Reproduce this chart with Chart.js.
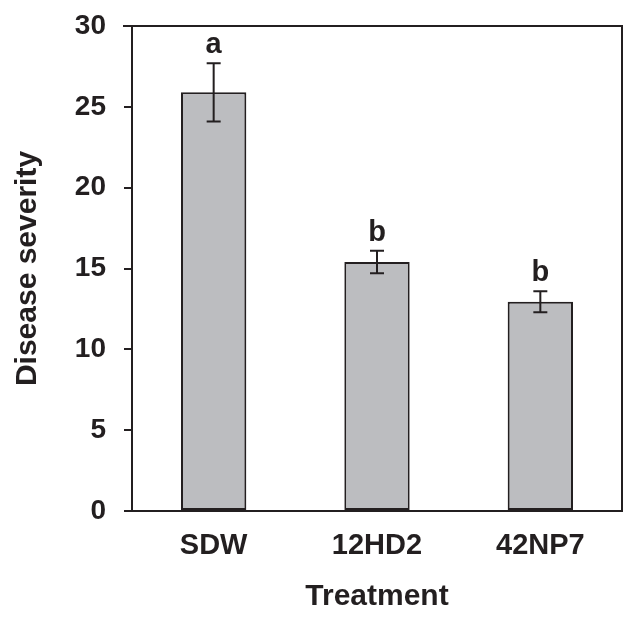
<!DOCTYPE html>
<html>
<head>
<meta charset="utf-8">
<script src="https://cdn.jsdelivr.net/npm/chart.js@4.4.1/dist/chart.umd.min.js"></script>
<style>
  html, body { margin: 0; padding: 0; background: #fff; }
  #wrap { width: 638px; height: 621px; }
</style>
</head>
<body>
<div id="wrap"><canvas id="myChart" width="638" height="621"></canvas></div>
<script>
const treatments = ['SDW', '12HD2', '42NP7'];
const severity = [25.9, 15.4, 12.95];
const stdErr = [1.8, 0.7, 0.65];
const groups = ['a', 'b', 'b'];
const yTicks = [0, 5, 10, 15, 20, 25, 30];

const ink = '#231f20';
const fontFam = "'Liberation Sans', Arial, sans-serif";

// error bars + letters on top of the bars
const errorBars = {
  id: 'errorBars',
  afterDatasetsDraw(chart) {
    const ctx = chart.ctx;
    const meta = chart.getDatasetMeta(0);
    const y = chart.scales.y;
    ctx.save();
    ctx.strokeStyle = ink;
    ctx.lineWidth = 2;
    meta.data.forEach((bar, i) => {
      const top = y.getPixelForValue(severity[i] + stdErr[i]);
      const bot = y.getPixelForValue(severity[i] - stdErr[i]);
      const x = bar.x;
      ctx.beginPath();
      ctx.moveTo(x, top); ctx.lineTo(x, bot);
      ctx.moveTo(x - 7, top); ctx.lineTo(x + 7, top);
      ctx.moveTo(x - 7, bot); ctx.lineTo(x + 7, bot);
      ctx.stroke();

      ctx.fillStyle = ink;
      ctx.font = 'bold 29px ' + fontFam;
      ctx.textAlign = 'center';
      ctx.textBaseline = 'alphabetic';
      ctx.fillText(groups[i], x, top - 10);
    });
    ctx.restore();
  }
};

// top and right frame lines
const frame = {
  id: 'frame',
  afterDraw(chart) {
    const {ctx, chartArea: a} = chart;
    ctx.save();
    ctx.strokeStyle = ink;
    ctx.lineWidth = 2;
    ctx.beginPath();
    ctx.moveTo(a.left - 9, a.top);
    ctx.lineTo(a.right, a.top);
    ctx.lineTo(a.right, a.bottom);
    ctx.stroke();
    ctx.restore();
  }
};

const data = {
  labels: treatments,
  datasets: [{
    data: severity,
    backgroundColor: '#bcbdc0',
    borderColor: ink,
    borderWidth: 2,
    borderSkipped: false,
    categoryPercentage: 1,
    barPercentage: 0.4
  }]
};

const config = {
  type: 'bar',
  data: data,
  plugins: [errorBars, frame],
  options: {
    responsive: false,
    animation: false,
    layout: { padding: { top: 26, right: 16, left: 0, bottom: 0 } },
    scales: {
      y: {
        min: 0,
        max: 30,
        afterBuildTicks(scale) {
          scale.ticks = yTicks.map(v => ({ value: v }));
        },
        afterFit(scale) {
          scale.width = 132;
          scale.paddingTop = 0;
        },
        border: { display: true, color: ink, width: 2 },
        grid: { drawOnChartArea: false, drawTicks: true, tickLength: 8, color: ink, lineWidth: 2 },
        ticks: { color: ink, padding: 18, font: { family: fontFam, size: 28, weight: 'bold' } },
        title: {
          display: true,
          text: 'Disease severity',
          color: ink,
          padding: { top: 10, bottom: 0 },
          font: { family: fontFam, size: 30, weight: 'bold' }
        }
      },
      x: {
        afterFit(scale) { scale.height = 110; },
        border: { display: true, color: ink, width: 2 },
        grid: { display: false },
        ticks: { color: ink, padding: 10, font: { family: fontFam, size: 29, weight: 'bold' } },
        title: {
          display: true,
          text: 'Treatment',
          color: ink,
          padding: { top: 0, bottom: 6 },
          font: { family: fontFam, size: 30, weight: 'bold' }
        }
      }
    },
    plugins: {
      legend: { display: false },
      tooltip: { enabled: false }
    }
  }
};

const myChart = new Chart(document.getElementById('myChart'), config);
</script>
</body>
</html>
